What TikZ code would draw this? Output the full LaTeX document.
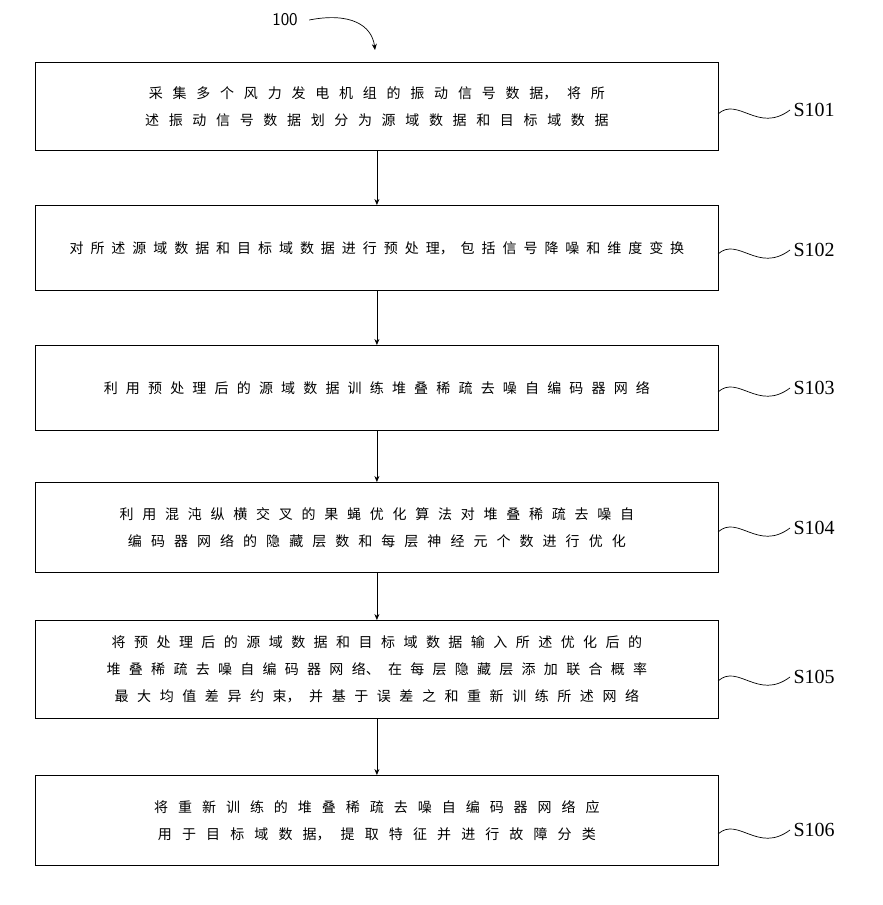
\documentclass[tikz,border=0pt]{standalone}
\usepackage{fontspec}
\setmainfont{Liberation Serif}
\newfontfamily\cjk{Noto Sans CJK SC}
\XeTeXlinebreaklocale "zh"
\XeTeXlinebreakskip=6pt plus 1pt
\usetikzlibrary{arrows.meta}
\begin{document}
\begin{tikzpicture}[x=1pt,y=-1pt,
  stepbox/.style={draw,line width=0.8pt,minimum width=683pt,anchor=north west,inner sep=0pt,text width=668pt,align=center,font=\cjk\fontsize{14}{27}\selectfont},
  lab/.style={font=\fontsize{20}{22}\selectfont,anchor=west},
  conn/.style={-{Stealth[length=6pt,width=5pt]},line width=0.7pt},
  wave/.style={line width=0.7pt}]
\useasboundingbox (0,0) rectangle (883,905);
\node[stepbox,minimum height=88pt] (b1) at (35,62) {采集多个风力发电机组的振动信号数据，将所述振动信号数据划分为源域数据和目标域数据};
\node[stepbox,minimum height=85pt] (b2) at (35,205) {对所述源域数据和目标域数据进行预处理，包括信号降噪和维度变换};
\node[stepbox,minimum height=85pt] (b3) at (35,345) {利用预处理后的源域数据训练堆叠稀疏去噪自编码器网络};
\node[stepbox,minimum height=90pt] (b4) at (35,482) {利用混沌纵横交叉的果蝇优化算法对堆叠稀疏去噪自编码器网络的隐藏层数和每层神经元个数进行优化};
\node[stepbox,minimum height=98pt] (b5) at (35,620) {将预处理后的源域数据和目标域数据输入所述优化后的堆叠稀疏去噪自编码器网络、在每层隐藏层添加联合概率最大均值差异约束，并基于误差之和重新训练所述网络};
\node[stepbox,minimum height=90pt] (b6) at (35,775) {将重新训练的堆叠稀疏去噪自编码器网络应用于目标域数据，提取特征并进行故障分类};
\foreach \a/\b in {b1/b2,b2/b3,b3/b4,b4/b5,b5/b6} \draw[conn] (\a.south) -- (\b.north);
\foreach \b/\t/\y in {b1/S101/110,b2/S102/250,b3/S103/388,b4/S104/528,b5/S105/677,b6/S106/830}{
  \node[lab] (l\b) at (790,\y) {\t};
  \coordinate (w\b) at (718,\y+4);
  \draw[wave] (w\b) .. controls (738,\y-14) and (758,\y+24) .. (l\b.west);
}
\node[font=\fontsize{18}{20}\selectfont\sffamily] (n100) at (285,20) {100};
\coordinate (t100) at (375,50);
\draw[conn] (n100.east) ++(8,0) .. controls (350,12) and (372,25) .. (t100);
\end{tikzpicture}
\end{document}
